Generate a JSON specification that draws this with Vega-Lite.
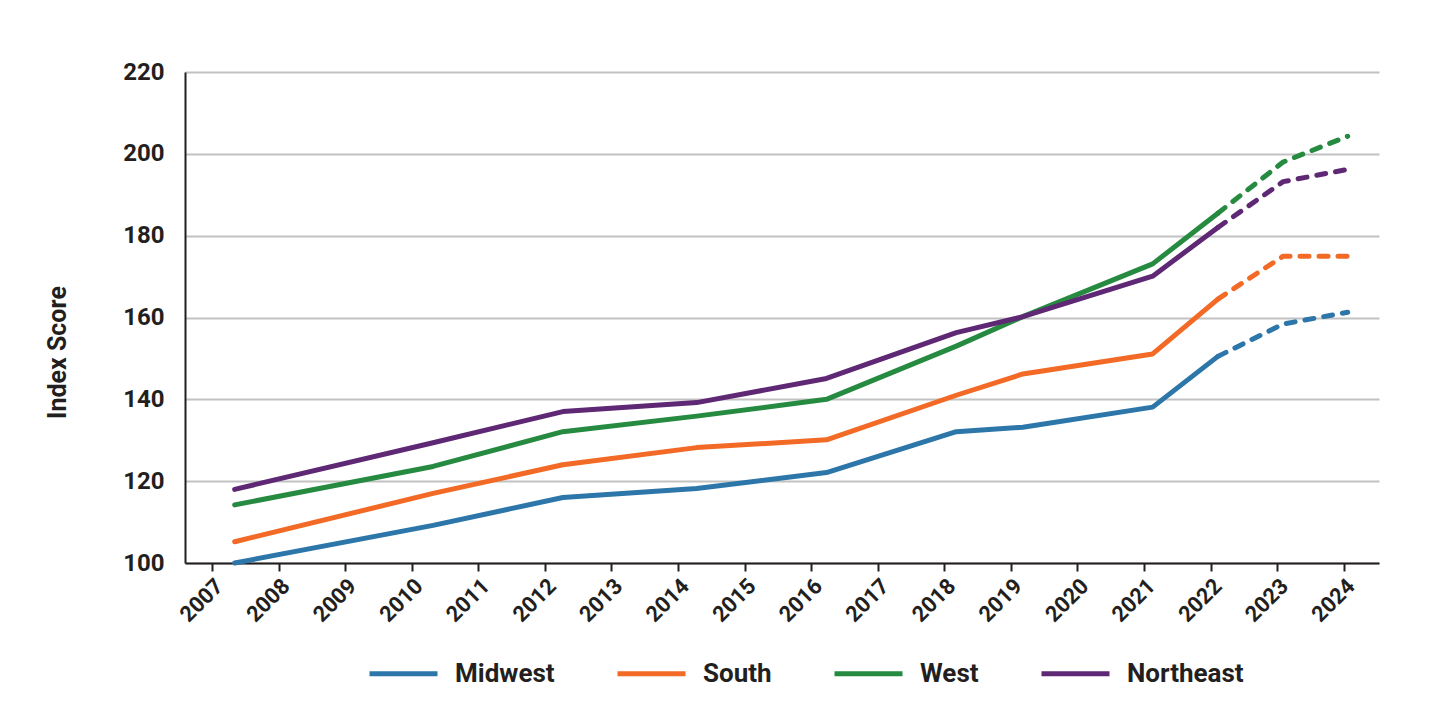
{
  "$schema": "https://vega.github.io/schema/vega-lite/v6.json",
  "autosize": {"type": "none"},
  "padding": {"left": 185, "top": 72, "right": 61, "bottom": 149},
  "width": 1194,
  "height": 491,
  "background": "white",
  "config": {
    "view": {"stroke": null},
    "font": "Roboto",
    "axis": {
      "labelFont": "Roboto",
      "labelFontWeight": "bold",
      "labelColor": "#231f20",
      "titleFont": "Roboto",
      "titleFontWeight": "bold",
      "titleColor": "#231f20",
      "domainColor": "#231f20",
      "domainWidth": 2,
      "tickColor": "#231f20",
      "tickWidth": 2
    }
  },
  "data": {
    "values": [
      {"region": "Midwest", "year": 2007, "x": 2007.34, "value": 100},
      {"region": "Midwest", "year": 2010, "x": 2010.32, "value": 109.2},
      {"region": "Midwest", "year": 2012, "x": 2012.27, "value": 116},
      {"region": "Midwest", "year": 2014, "x": 2014.28, "value": 118.2},
      {"region": "Midwest", "year": 2016, "x": 2016.23, "value": 122.1},
      {"region": "Midwest", "year": 2018, "x": 2018.18, "value": 132.1},
      {"region": "Midwest", "year": 2019, "x": 2019.18, "value": 133.2},
      {"region": "Midwest", "year": 2021, "x": 2021.13, "value": 138.1},
      {"region": "Midwest", "year": 2022, "x": 2022.11, "value": 150.5},
      {"region": "Midwest", "year": 2023, "x": 2023.09, "value": 158.4},
      {"region": "Midwest", "year": 2024, "x": 2024.06, "value": 161.3},
      {"region": "South", "year": 2007, "x": 2007.34, "value": 105.2},
      {"region": "South", "year": 2010, "x": 2010.32, "value": 117},
      {"region": "South", "year": 2012, "x": 2012.27, "value": 124},
      {"region": "South", "year": 2014, "x": 2014.28, "value": 128.2},
      {"region": "South", "year": 2016, "x": 2016.23, "value": 130.1},
      {"region": "South", "year": 2018, "x": 2018.18, "value": 141},
      {"region": "South", "year": 2019, "x": 2019.18, "value": 146.2},
      {"region": "South", "year": 2021, "x": 2021.13, "value": 151.1},
      {"region": "South", "year": 2022, "x": 2022.11, "value": 164.5},
      {"region": "South", "year": 2023, "x": 2023.09, "value": 175},
      {"region": "South", "year": 2024, "x": 2024.06, "value": 175},
      {"region": "West", "year": 2007, "x": 2007.34, "value": 114.2},
      {"region": "West", "year": 2010, "x": 2010.32, "value": 123.6},
      {"region": "West", "year": 2012, "x": 2012.27, "value": 132.1},
      {"region": "West", "year": 2014, "x": 2014.28, "value": 135.9},
      {"region": "West", "year": 2016, "x": 2016.23, "value": 140},
      {"region": "West", "year": 2018, "x": 2018.18, "value": 153},
      {"region": "West", "year": 2019, "x": 2019.18, "value": 160.2},
      {"region": "West", "year": 2021, "x": 2021.13, "value": 173.1},
      {"region": "West", "year": 2022, "x": 2022.11, "value": 185.5},
      {"region": "West", "year": 2023, "x": 2023.09, "value": 198},
      {"region": "West", "year": 2024, "x": 2024.06, "value": 204.3},
      {"region": "Northeast", "year": 2007, "x": 2007.34, "value": 118},
      {"region": "Northeast", "year": 2010, "x": 2010.32, "value": 129.4},
      {"region": "Northeast", "year": 2012, "x": 2012.27, "value": 137},
      {"region": "Northeast", "year": 2014, "x": 2014.28, "value": 139.2},
      {"region": "Northeast", "year": 2016, "x": 2016.23, "value": 145.1},
      {"region": "Northeast", "year": 2018, "x": 2018.18, "value": 156.3},
      {"region": "Northeast", "year": 2019, "x": 2019.18, "value": 160.2},
      {"region": "Northeast", "year": 2021, "x": 2021.13, "value": 170.1},
      {"region": "Northeast", "year": 2022, "x": 2022.11, "value": 182},
      {"region": "Northeast", "year": 2023, "x": 2023.09, "value": 193.2},
      {"region": "Northeast", "year": 2024, "x": 2024.06, "value": 196.2}
    ]
  },
  "encoding": {
    "x": {
      "field": "x",
      "type": "quantitative",
      "scale": {"domain": [2006.594, 2024.53], "nice": false, "zero": false},
      "axis": {
        "title": null,
        "values": [2007, 2008, 2009, 2010, 2011, 2012, 2013, 2014, 2015, 2016, 2017, 2018, 2019, 2020, 2021, 2022, 2023, 2024],
        "format": "d",
        "grid": false,
        "labelAngle": -45,
        "labelAlign": "right",
        "labelBaseline": "top",
        "labelFontSize": 22,
        "tickSize": 8,
        "labelPadding": 4
      }
    },
    "y": {
      "field": "value",
      "type": "quantitative",
      "scale": {"domain": [100, 220], "nice": false, "zero": false},
      "axis": {
        "title": "Index Score",
        "values": [100, 120, 140, 160, 180, 200, 220],
        "grid": true,
        "gridColor": "#c2c2c2",
        "gridWidth": 2,
        "ticks": false,
        "labelPadding": 21,
        "labelFontSize": 24,
        "titleFontSize": 25,
        "titleAngle": -90,
        "titleX": -128,
        "titleY": 280,
        "titleAlign": "center",
        "titleBaseline": "middle"
      }
    },
    "color": {
      "field": "region",
      "type": "nominal",
      "scale": {
        "domain": ["Midwest", "South", "West", "Northeast"],
        "range": ["#2c76a9", "#f26a26", "#268a41", "#5e2874"]
      }
    }
  },
  "layer": [
    {
      "transform": [{"filter": "datum.year <= 2022"}],
      "mark": {"type": "line", "strokeWidth": 5, "strokeCap": "round", "strokeJoin": "round"},
      "encoding": {
        "color": {
          "field": "region",
          "type": "nominal",
          "scale": {
            "domain": ["Midwest", "South", "West", "Northeast"],
            "range": ["#2c76a9", "#f26a26", "#268a41", "#5e2874"]
          },
          "legend": {
            "title": null,
            "orient": "none",
            "direction": "horizontal",
            "legendX": 182,
            "legendY": 565,
            "symbolType": "stroke",
            "symbolSize": 4624,
            "symbolStrokeWidth": 5,
            "labelFont": "Roboto",
            "labelFontSize": 26,
            "labelFontWeight": "bold",
            "labelColor": "#231f20",
            "labelOffset": 15,
            "columnPadding": 52,
            "labelLimit": 300
          }
        }
      }
    },
    {
      "transform": [{"filter": "datum.year >= 2022"}],
      "mark": {"type": "line", "strokeWidth": 5, "strokeCap": "round", "strokeJoin": "round", "strokeDash": [9, 10]},
      "encoding": {
        "color": {
          "field": "region",
          "type": "nominal",
          "legend": null
        }
      }
    }
  ]
}
